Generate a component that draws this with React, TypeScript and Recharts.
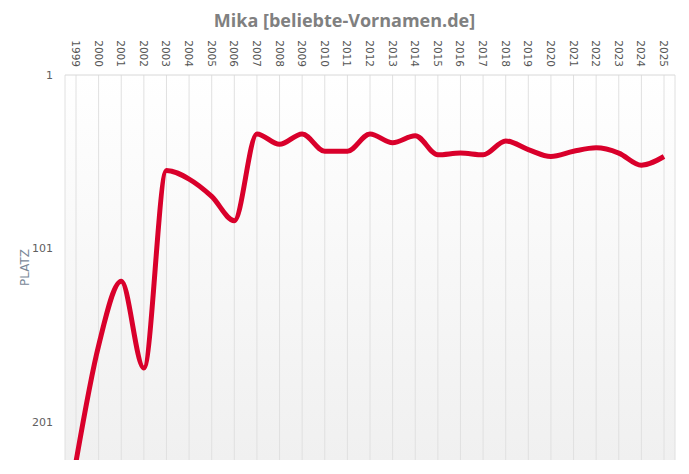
import { CartesianGrid, Line, LineChart, XAxis, YAxis } from 'recharts'

const years = [
  '1999', '2000', '2001', '2002', '2003', '2004', '2005', '2006', '2007',
  '2008', '2009', '2010', '2011', '2012', '2013', '2014', '2015', '2016',
  '2017', '2018', '2019', '2020', '2021', '2022', '2023', '2024', '2025',
]

const ranks = [
  224, 157, 120, 170, 56, 61, 71, 85, 35,
  41, 35, 45, 45, 35, 40, 36, 47, 46,
  47, 39, 44, 48, 45, 43, 46, 53, 48,
]

const rankTicks = [1, 101, 201]

const data = years.map((year, i) => ({ year, rank: ranks[i] }))

function YearTick({ x, y, payload }: any) {
  return (
    <text
      x={x}
      y={y}
      transform={`rotate(90 ${x} ${y})`}
      textAnchor="end"
      dominantBaseline="central"
      fontSize={10.5}
      fill="#555"
      fontFamily="'DejaVu Sans', sans-serif"
    >
      {payload.value}
    </text>
  )
}

export default function App() {
  return (
    <div style={{ position: 'absolute', left: 0, top: 0, width: 689, height: 474, background: '#fff' }}>
      <div
        style={{
          position: 'absolute',
          top: 8,
          left: 0,
          width: 689,
          textAlign: 'center',
          fontFamily: "'Open Sans', sans-serif",
          fontWeight: 700,
          fontSize: 18,
          color: '#808080',
        }}
      >
        Mika [beliebte-Vornamen.de]
      </div>
      <LineChart
        width={689}
        height={474}
        data={data}
        margin={{ top: 35, right: 14, bottom: 14, left: 0 }}
      >
        <defs>
          <linearGradient id="plotBg" x1="0" y1="0" x2="0" y2="1">
            <stop offset="0%" stopColor="#ffffff" />
            <stop offset="100%" stopColor="#f0f0f0" />
          </linearGradient>
        </defs>
        <CartesianGrid
          horizontal={false}
          stroke="#e0e0e0"
          fill="url(#plotBg)"
          fillOpacity={1}
        />
        <XAxis
          dataKey="year"
          orientation="top"
          interval={0}
          height={40}
          padding={{ left: 11, right: 11 }}
          axisLine={{ stroke: '#d8d8d8' }}
          tickLine={false}
          tickSize={0}
          tickMargin={8}
          tick={<YearTick />}
        />
        <YAxis
          reversed
          domain={[1, 223]}
          ticks={rankTicks}
          allowDataOverflow
          width={65}
          axisLine={false}
          tickLine={false}
          tickSize={0}
          tickMargin={12}
          tick={{ fontSize: 11, fill: '#606060', fontFamily: "'DejaVu Sans', sans-serif" }}
          label={{
            value: 'PLATZ',
            angle: -90,
            position: 'insideLeft',
            offset: 25,
            style: { fontSize: 12, fill: '#7a8898', textAnchor: 'middle', fontFamily: "'DejaVu Sans', sans-serif" },
          }}
        />
        <Line
          type="monotone"
          dataKey="rank"
          stroke="#d9002b"
          strokeWidth={5}
          dot={false}
          isAnimationActive={false}
        />
      </LineChart>
    </div>
  )
}
